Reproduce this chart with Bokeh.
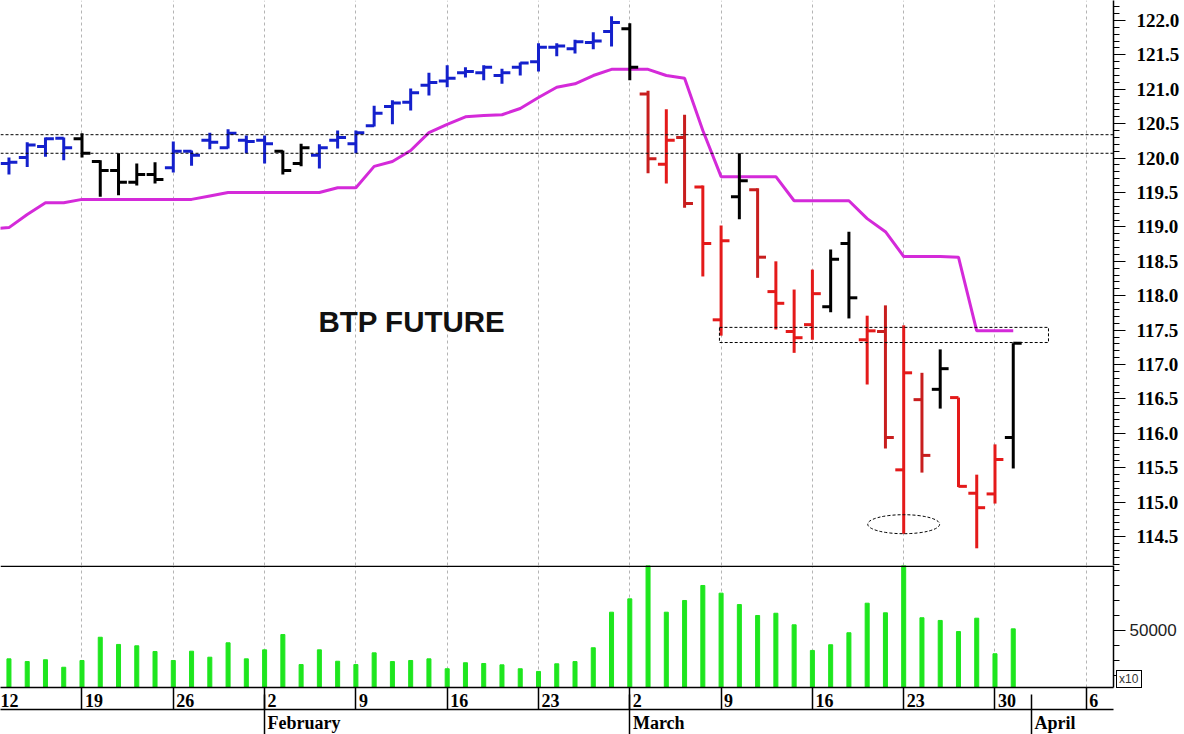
import numpy as np
import pandas as pd
from bokeh.plotting import figure
from bokeh.layouts import column
from bokeh.models import (Range1d, LinearAxis, FixedTicker, Grid, Span, Div,
                          BoxAnnotation, ColumnDataSource, NumeralTickFormatter,
                          CustomJSTickFormatter)
from bokeh.core.properties import value
from bokeh.embed import file_html
from bokeh.resources import INLINE

nan = float("nan")

# ---------------- data ----------------
dates = pd.bdate_range("2015-01-12", "2015-03-31")   # 57 trading days

opens = [nan,
         119.92, 120.01, 120.17, 120.29, 120.28, 119.95, 119.82, 119.65, 119.76, 119.86,
         120.10, 120.26, 120.15, 120.26, 120.26, 120.10, 119.92, 120.04, 120.26, 120.21,
         120.47, 120.75, 120.81, 121.06, 121.12, 121.24, 121.24, 121.20, 121.32, 121.40,
         121.61, 121.59, 121.68, 121.84, 121.88, 120.93, 119.91, 120.30, 119.58, 117.65,
         119.44, 119.54, 118.06, 117.48, 117.58, 117.84, 118.76, 117.36, 117.48, 115.47,
         116.49, 116.64, 116.52, 115.13, 115.12, 115.94]
highs = [nan,
         120.01, 120.23, 120.30, 120.30, 120.36, 119.97, 120.07, 119.92, 119.94, 120.24,
         120.11, 120.37, 120.42, 120.33, 120.33, 120.11, 120.21, 120.20, 120.40, 120.40,
         120.76, 120.84, 121.01, 121.24, 121.35, 121.32, 121.35, 121.30, 121.39, 121.67,
         121.67, 121.72, 121.83, 122.06, 121.96, 120.98, 120.71, 120.63, 119.60, 119.02,
         120.07, 119.56, 118.50, 118.09, 118.38, 118.67, 118.93, 117.71, 117.86, 117.57,
         116.88, 117.22, 116.52, 115.40, 115.84, 117.31]
lows = [nan,
        119.76, 119.87, 120.02, 119.97, 120.01, 119.44, 119.46, 119.60, 119.63, 119.79,
        119.89, 120.13, 120.14, 120.07, 119.92, 119.76, 119.88, 119.85, 120.14, 120.07,
        120.46, 120.49, 120.69, 120.91, 121.03, 121.17, 121.13, 121.08, 121.20, 121.26,
        121.48, 121.52, 121.58, 121.62, 121.13, 119.78, 119.63, 119.28, 118.28, 117.42,
        119.11, 118.26, 117.51, 117.17, 117.36, 117.76, 117.67, 116.71, 115.78, 114.54,
        115.43, 116.36, 115.22, 114.33, 114.98, 115.49]
closes = [nan,
          119.94, 120.19, 120.28, 120.15, 120.07, 119.82, 119.65, 119.76, 119.69, 120.10,
          120.04, 120.23, 120.36, 120.24, 120.21, 119.82, 120.15, 120.15, 120.30, 120.37,
          120.65, 120.80, 120.95, 121.10, 121.16, 121.26, 121.32, 121.24, 121.38, 121.61,
          121.63, 121.69, 121.70, 121.97, 121.32, 119.99, 120.26, 119.34, 118.76, 118.80,
          119.67, 118.56, 117.89, 117.39, 118.03, 118.53, 117.97, 117.49, 115.94, 116.88,
          115.68, 116.94, 115.23, 114.92, 115.62, 117.31]
# bar colour class: U = uptrend (blue), N = neutral (black), D / d = downtrend (red shades)
trend = ["N",
         "U", "U", "U", "U", "N", "N", "N", "N", "N", "U",
         "U", "U", "U", "U", "U", "N", "N", "U", "U", "U",
         "U", "U", "U", "U", "U", "U", "U", "U", "U", "U",
         "U", "U", "U", "U", "N", "d", "D", "d", "D", "D",
         "N", "d", "D", "D", "D", "N", "N", "D", "d", "D",
         "d", "N", "D", "D", "D", "N"]
stop_line = [118.97,
             118.99, 119.18, 119.35, 119.35, 119.40, 119.40, 119.40, 119.40, 119.40, 119.40,
             119.40, 119.45, 119.50, 119.50, 119.50, 119.50, 119.50, 119.50, 119.57, 119.57,
             119.88, 119.95, 120.11, 120.37, 120.49, 120.60, 120.62, 120.63, 120.72, 120.88,
             121.03, 121.08, 121.20, 121.29, 121.29, 121.29, 121.20, 121.16, 120.40, 119.73,
             119.73, 119.73, 119.73, 119.38, 119.38, 119.38, 119.38, 119.12, 118.93, 118.57,
             118.57, 118.57, 118.56, 117.49, 117.49, 117.49]
volumes = [nan,
           31100, 29300, 30500, 25500, 30000, 45500, 40700, 39800, 36000, 30000,
           36200, 32200, 41800, 31100, 37100, 47300, 27300, 37100, 29500, 27300,
           35100, 29300, 30000, 31100, 24500, 28500, 28000, 27100, 24500, 22700,
           27800, 29300, 38500, 62200, 71100, 98000, 62200, 70000, 80000, 74900,
           67300, 60000, 61500, 53800, 36700, 40500, 48500, 68200, 61800, 100000,
           58500, 56700, 49300, 58200, 34500, 51100]

week_labels = ["12", "19", "26", "2", "9", "16", "23", "2", "9", "16", "23", "30", "6"]
week_starts = [0, 5, 10, 15, 20, 25, 30, 35, 40, 45, 50, 55, 60]     # trading-day index of Mondays
month_labels = ["February", "March", "April"]
month_starts = [15, 35, 57]                                          # first trading day of month
title_text = "BTP FUTURE"
volume_multiplier = "x10"

# ---------------- layout constants ----------------
FW = 1113
X0, X1 = 0.537, 61.49
PX_PER_DAY = FW / (X1 - X0)
SERIF = "Liberation Serif"
SANS = "Liberation Sans"

colour_map = {"U": "#1420cc", "N": "#000000", "D": "#e41a1a", "d": "#c81e1e"}
idx = np.arange(len(dates), dtype=float)
colors = [colour_map[t] for t in trend]
TK = 0.46

src = ColumnDataSource(dict(
    x=idx, xl=idx - TK, xr=idx + TK,
    o=opens, h=highs, l=lows, c=closes, col=colors, vol=volumes, stop=stop_line))

xr = Range1d(X0, X1)

# ---------------- price panel ----------------
p1 = figure(frame_width=FW, frame_height=565, x_range=xr, y_range=Range1d(114.08, 122.29),
            x_axis_location=None, y_axis_location="right", toolbar_location=None,
            output_backend="svg", min_border_left=0, min_border_right=71,
            min_border_top=0, min_border_bottom=0)
p1.outline_line_color = None
for g in p1.grid:
    g.visible = False
p1.add_layout(Grid(dimension=0, ticker=FixedTicker(ticks=week_starts),
                   grid_line_color="#b4b4b4", grid_line_dash="3 3", grid_line_width=1))

p1.line("x", "stop", source=src, line_color="#d42ad9", line_width=3)
p1.segment("x", "l", "x", "h", source=src, line_color="col", line_width=3)
p1.segment("xl", "o", "x", "o", source=src, line_color="col", line_width=3)
p1.segment("x", "c", "xr", "c", source=src, line_color="col", line_width=3)

for lvl in (120.34, 120.07):
    p1.add_layout(Span(location=lvl, dimension="width", line_color="black",
                       line_dash="3 2", line_width=1))
p1.add_layout(BoxAnnotation(left=39.91, right=57.93, bottom=117.32, top=117.54,
                            fill_alpha=0, line_color="black", line_dash="3 2",
                            line_width=1, line_alpha=1))
p1.ellipse(x=[50], y=[114.68], width=3.94, height=0.276, fill_color=None,
           line_color="black", line_dash="3 2", line_width=1)
p1.text(x=[17.95], y=[117.63], text=[title_text], text_font=value(SANS),
        text_font_style="bold", text_font_size="29.5px", text_color="#111111",
        text_baseline="alphabetic", text_align="left")

ya = p1.yaxis[0]
ya.ticker = FixedTicker(ticks=[round(114.5 + 0.5 * k, 1) for k in range(16)],
                        minor_ticks=[round(114.1 + 0.1 * k, 1) for k in range(82)])
ya.formatter = NumeralTickFormatter(format="0.0")
ya.major_label_text_font = SERIF
ya.major_label_text_font_style = "bold"
ya.major_label_text_font_size = "19px"
ya.major_label_text_color = "black"
ya.major_tick_out = 12
ya.major_tick_in = 0
ya.minor_tick_out = 6
ya.minor_tick_in = 0
ya.major_label_standoff = 11
ya.axis_line_width = 1.5
ya.axis_line_color = "black"

# ---------------- volume panel ----------------
p2 = figure(frame_width=FW, frame_height=122, x_range=xr, y_range=Range1d(12000, 93333),
            x_axis_location="below", y_axis_location="right", toolbar_location=None,
            output_backend="svg", min_border_left=0, min_border_right=71,
            min_border_top=0, min_border_bottom=0)
p2.outline_line_color = None
for g in p2.grid:
    g.visible = False
p2.add_layout(Grid(dimension=0, ticker=FixedTicker(ticks=week_starts),
                   grid_line_color="#b4b4b4", grid_line_dash="3 3", grid_line_width=1))
p2.vbar(x="x", top="vol", bottom=0, width=0.22, source=src, fill_color="#1ee61e",
        line_color="#1ee61e")
p2.add_layout(Span(location=93333 - 500, dimension="width", line_color="black", line_width=1.5))

va = p2.yaxis[0]
va.ticker = FixedTicker(ticks=[50000], minor_ticks=[20000, 30000, 40000, 60000, 70000, 80000, 90000])
va.formatter = NumeralTickFormatter(format="0")
va.major_label_text_font = SANS
va.major_label_text_font_style = "normal"
va.major_label_text_font_size = "17px"
va.major_label_text_color = "#222222"
va.major_tick_out = 12
va.major_tick_in = 0
va.minor_tick_out = 6
va.minor_tick_in = 0
va.major_label_standoff = 4
va.axis_line_width = 1.5
va.axis_line_color = "black"

# date axes: row 1 = Monday dates, row 2 = months, row 3 = month separators only
week_pos = [s + (3 + 4.5 * len(t)) / PX_PER_DAY for s, t in zip(week_starts, week_labels)]
month_px = {"February": 39.5, "March": 29, "April": 23.5}
month_pos = [s + month_px[t] / PX_PER_DAY for s, t in zip(month_starts, month_labels)]

fmt_code = """
const i = pos.findIndex(p => Math.abs(p - tick) < 1e-6);
return i >= 0 ? txt[i] : "";
"""

def style_date_axis(ax, pos, labels, standoff):
    ax.ticker = FixedTicker(ticks=pos)
    ax.formatter = CustomJSTickFormatter(args=dict(pos=pos, txt=labels), code=fmt_code)
    ax.major_tick_out = 0
    ax.major_tick_in = 0
    ax.minor_tick_out = 0
    ax.minor_tick_in = 0
    ax.major_label_standoff = standoff
    ax.major_label_text_font = SERIF
    ax.major_label_text_font_style = "bold"
    ax.major_label_text_font_size = "18px"
    ax.major_label_text_color = "black"
    ax.axis_line_width = 1.5
    ax.axis_line_color = "black"

ax_days = p2.xaxis[0]
style_date_axis(ax_days, week_pos, week_labels, 6)

ax_months = LinearAxis()
style_date_axis(ax_months, month_pos, month_labels, 3)
# week separators drawn upward through the day row
ax_months.ticker = FixedTicker(ticks=month_pos, minor_ticks=week_starts)
ax_months.minor_tick_in = 22
ax_months.minor_tick_line_width = 1.5
ax_months.minor_tick_line_color = "black"
p2.add_layout(ax_months, "below")

ax_sep = LinearAxis(ticker=FixedTicker(ticks=month_starts),
                    formatter=CustomJSTickFormatter(code='return "";'))
ax_sep.axis_line_color = None
ax_sep.major_tick_in = 41
ax_sep.major_tick_out = 6
ax_sep.major_tick_line_width = 1.5
ax_sep.major_tick_line_color = "black"
ax_sep.minor_tick_out = 0
ax_sep.minor_tick_in = 0
ax_sep.major_label_standoff = 0
ax_sep.major_label_text_font_size = "1px"
p2.add_layout(ax_sep, "below")

x10 = Div(text=volume_multiplier, styles={
    "position": "absolute", "left": "1111px", "top": "665px",
    "border": "1px solid black", "background": "white",
    "font-family": "'Liberation Sans', sans-serif", "font-size": "12px",
    "line-height": "16px", "padding": "0 3px 0 2px", "color": "#333333"})

layout = column(p1, p2, x10, spacing=0)
open("out.html", "w").write(file_html(layout, INLINE))
